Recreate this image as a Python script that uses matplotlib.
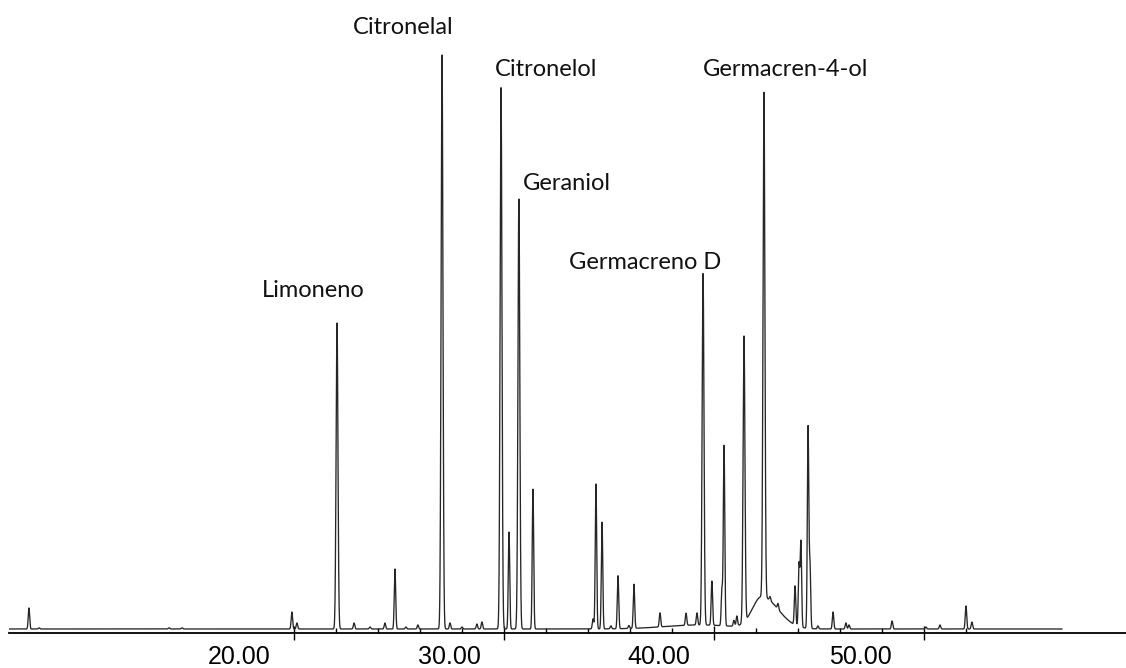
import numpy as np
import matplotlib.pyplot as plt

# retention times (min) and relative heights (% of Citronelal) of the peaks
peak_time = [10.00, 10.48, 16.67, 17.29, 22.52, 22.76, 24.67, 25.48, 26.24, 26.95,
             27.43, 27.95, 28.52, 29.67, 30.05, 30.62, 31.33, 31.57, 32.48, 32.86,
             33.33, 34.00, 36.86, 37.00, 37.29, 37.71, 38.05, 38.57, 38.81, 40.05,
             41.29, 41.81, 42.10, 42.52, 43.00, 43.10, 43.57, 43.71, 44.05, 45.00,
             45.29, 45.67, 46.48, 46.67, 46.76, 47.10, 47.19, 47.57, 48.29, 48.90,
             49.05, 51.10, 52.71, 53.38, 54.62, 54.90]
peak_height = [3.66, 0.2, 0.2, 0.2, 2.96, 1.05, 53.3, 1.05, 0.35, 1.05,
               10.45, 0.35, 0.7, 100.0, 1.05, 0.35, 0.87, 1.22, 94.4, 16.9,
               74.9, 24.4, 1.74, 25.3, 18.6, 0.52, 9.23, 0.52, 7.67, 2.44,
               2.1, 2.1, 61.3, 7.7, 6.4, 31.4, 1.0, 1.7, 49.8, 88.0,
               0.7, 1.0, 6.8, 10.8, 14.8, 35.0, 11.3, 0.52, 2.96, 1.05,
               0.7, 1.39, 0.35, 0.7, 4.0, 1.22]

# broad baseline rise and hump under Germacren-4-ol
hump_time = [41.95, 44.90]
hump_height = [0.7, 5.5]

names = ["Limoneno", "Citronelal", "Citronelol", "Geraniol", "Germacreno D", "Germacren-4-ol"]
name_x = [21.10, 25.43, 32.19, 33.52, 35.71, 42.10]
name_y = [57.8, 103.7, 96.3, 76.5, 62.7, 96.3]

tick_labels = ["20.00", "30.00", "40.00", "50.00"]
tick_label_pos = [20.0, 30.0, 40.0, 49.6]
long_ticks = [22.6, 32.6, 42.6, 52.6]
short_ticks = [24.6, 26.6, 28.6, 30.6, 34.6, 36.6, 38.6, 40.6, 44.6, 46.6, 48.6, 50.6, 54.6]

t = np.arange(9.05, 59.19, 0.004)
sig = 0.034
y = np.zeros_like(t)
for tp, hp in zip(peak_time, peak_height):
    s = sig * 1.3 if hp > 40 else sig
    y += hp * np.exp(-0.5 * ((t - tp) / s) ** 2)
# wide baseline rise
y += hump_height[0] * np.exp(-0.5 * ((t - hump_time[0]) / 1.67) ** 2)
# asymmetric hump
w = np.where(t < hump_time[1], 0.45, 0.78)
y += hump_height[1] * np.exp(-0.5 * ((t - hump_time[1]) / w) ** 2)

fig = plt.figure(figsize=(11.26, 6.68), dpi=100)
ax = fig.add_axes([9 / 1126, 35 / 668, 1 - 9 / 1126, 1 - 35 / 668])
ax.plot(t, y, color="#262626", lw=0.95)
ax.set_xlim(9.05, 62.24)
ax.set_ylim(-0.70, 109.58)

for sp in ["left", "right", "top"]:
    ax.spines[sp].set_visible(False)
ax.spines["bottom"].set_linewidth(1.3)
ax.set_yticks([])

ax.set_xticks(tick_label_pos, tick_labels, fontsize=18, family="Liberation Sans")
ax.tick_params(axis="x", which="major", length=0, pad=9)
ax.set_xticks(short_ticks, minor=True)
ax.tick_params(axis="x", which="minor", direction="in", length=3.8, width=1.0)

sec = ax.secondary_xaxis("bottom")
sec.spines["bottom"].set_visible(False)
sec.set_xticks(long_ticks, ["", "", "", ""])
sec.tick_params(axis="x", direction="inout", length=9.5, width=1.0)

for name, nx, ny in zip(names, name_x, name_y):
    ax.text(nx, ny, name, fontsize=17, family="Lato", ha="left", va="baseline", color="#111")

fig.savefig("out.png", dpi=100)
